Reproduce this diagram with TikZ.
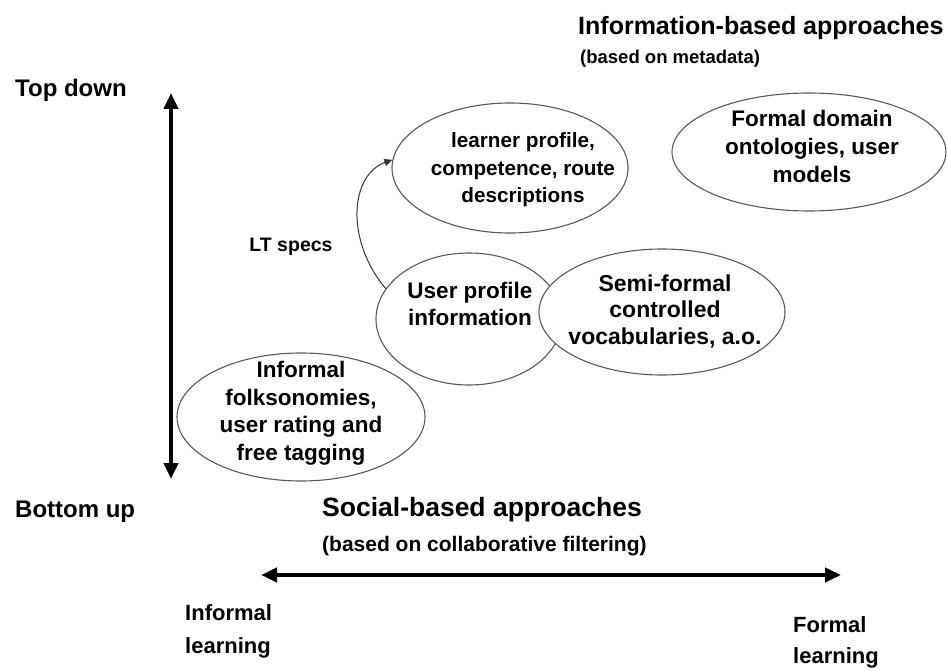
\documentclass[tikz,border=0pt]{standalone}
\usepackage{fontspec}
\setmainfont{Liberation Sans}
\usetikzlibrary{shapes.geometric,arrows.meta}
\begin{document}
\begin{tikzpicture}[x=1pt,y=-1pt,
  bubble/.style={ellipse,draw=black!65,line width=1.1pt,fill=white,inner sep=0pt},
  btext/.style={inner sep=0pt,align=center},
  axis/.style={line width=4pt,{Triangle[length=16pt,width=14pt]}-{Triangle[length=16pt,width=14pt]}},
  lbl/.style={inner sep=0pt,font=\bfseries\fontsize{24}{30}\selectfont,align=left},
  big/.style={inner sep=0pt,anchor=west,font=\bfseries\fontsize{25}{30}\selectfont},
  sub/.style={inner sep=0pt,anchor=west,font=\bfseries\fontsize{18.5}{24}\selectfont}]
\useasboundingbox (0,0) rectangle (947,671);
% titles
\node[big] (infotitle) at (578,28) {Information-based approaches};
\node[sub] (infosub) at (580,59) {(based on metadata)};
\node[big,font=\bfseries\fontsize{26.5}{30}\selectfont] (soctitle) at (322,510) {Social-based approaches};
\node[sub,font=\bfseries\fontsize{21}{24}\selectfont] (socsub) at (322,546) {(based on collaborative filtering)};
% side labels
\node[lbl,anchor=west] (top) at (15,90) {Top down};
\node[lbl,anchor=west] (bottom) at (15,512) {Bottom up};
\node[lbl,anchor=north west,font=\bfseries\fontsize{22}{33}\selectfont] (informal) at (185,604) {Informal\\learning};
\node[lbl,anchor=north west,font=\bfseries\fontsize{22}{31}\selectfont] (formal) at (793,616) {Formal\\learning};
\node[inner sep=0pt,font=\bfseries\fontsize{19.5}{22}\selectfont] (lt) at (291,247) {LT specs};
% axes
\coordinate (vtop) at (171,93);
\coordinate (vbot) at (171,479);
\coordinate (hleft) at (261,575);
\coordinate (hright) at (841,575);
\draw[axis] (vbot) -- (vtop);
\draw[axis] (hleft) -- (hright);
% ellipses
\node[bubble,minimum width=248pt,minimum height=128pt] (folk) at (301,417) {};
\node[btext,font=\bfseries\fontsize{22.5}{27.5}\selectfont] (folktext) at (301,413) {Informal\\folksonomies,\\user rating and\\free tagging};
\node[bubble,minimum width=236pt,minimum height=130pt] (learner) at (510,168) {};
\node[btext,font=\bfseries\fontsize{20.7}{27.5}\selectfont] (learnertext) at (523,170) {learner profile,\\competence, route\\descriptions};
\node[bubble,minimum width=274pt,minimum height=118pt] (formaldom) at (809,152) {};
\node[btext,font=\bfseries\fontsize{22.5}{28}\selectfont] (formaltext) at (812,146) {Formal domain\\ontologies, user\\models};
\node[bubble,minimum width=186pt,minimum height=132pt] (user) at (469,319) {};
\node[btext,font=\bfseries\fontsize{22.5}{27}\selectfont] (usertext) at (470,304) {User profile\\information};
\node[bubble,minimum width=246pt,minimum height=126pt] (semi) at (662,312) {};
\node[btext,font=\bfseries\fontsize{23}{26.5}\selectfont] (semitext) at (665,311) {Semi-formal\\controlled\\vocabularies, a.o.};
% curved connector
\draw[line width=1pt,black!80,-{Triangle[length=8pt,width=7pt]}] (user.160) .. controls (345,240) and (350,175) .. (learner.176);
\end{tikzpicture}
\end{document}
